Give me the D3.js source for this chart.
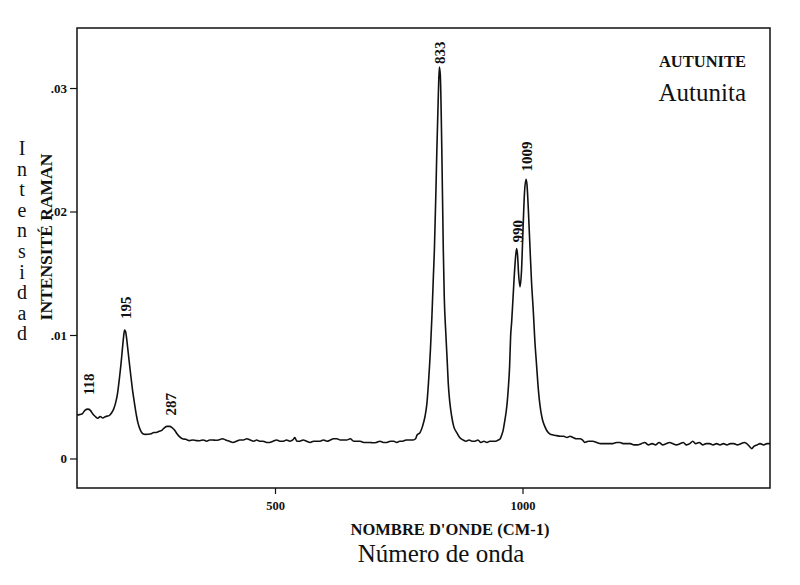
<!DOCTYPE html>
<html>
<head>
<meta charset="utf-8">
<script src="https://cdn.jsdelivr.net/npm/d3@7"></script>
<style>
  html, body { margin: 0; padding: 0; background: #fff; }
  svg { display: block; }
  text { font-family: "Liberation Serif", "Times New Roman", serif; fill: #111; }
</style>
</head>
<body>
<svg id="chart" width="800" height="585"></svg>
<script>
// ---- data ----
const wavenumber = [100,105,110,116,122,127,132,137,142,147,152,158,165,170,174,178,182,186,189,192,194,196,198,200,202,205,209,212,216,220,223,228,233,238,243,250,255,260,266,272,277,282,287,292,297,302,307,313,320,327,334,341,348,355,362,368,374,380,386,394,400,408,415,422,429,436,443,450,457,463,469,476,483,489,496,503,510,517,523,530,536,540,544,550,557,564,571,578,585,591,598,605,612,618,625,632,639,645,652,659,666,672,679,685,692,698,705,712,719,726,733,740,746,752,758,765,772,779,784,787,793,798,803,807,810,814,817,820,822,825,827,830,832,834,837,840,842,845,848,850,853,857,861,867,873,880,886,892,898,904,910,916,922,928,934,940,946,951,955,958,961,964,967,969,971,974,976,978,981,985,988,990,992,995,998,1001,1004,1007,1009,1012,1015,1018,1022,1025,1028,1032,1035,1040,1045,1050,1055,1062,1069,1076,1083,1090,1096,1102,1109,1116,1121,1126,1133,1142,1150,1158,1166,1174,1182,1190,1197,1203,1210,1218,1225,1232,1240,1247,1254,1262,1269,1276,1283,1290,1297,1304,1311,1318,1325,1331,1338,1344,1350,1357,1364,1371,1378,1385,1392,1399,1406,1413,1420,1427,1434,1441,1448,1453,1458,1463,1468,1474,1480,1487,1494,1500];
const intensity = [.00352,.00355,.0036,.0039,.0040,.0039,.0036,.0034,.00326,.0034,.00328,.0034,.00347,.0037,.0040,.0045,.0053,.0066,.0077,.0090,.0098,.0104,.0103,.0098,.0091,.0080,.0066,.0056,.0045,.0035,.0029,.0023,.0020,.00195,.00196,.0020,.0021,.0021,.0022,.0023,.0025,.0026,.0026,.0025,.0023,.0020,.00177,.0016,.00155,.00145,.0015,.00145,.00144,.0015,.0014,.0015,.0015,.00148,.0015,.0016,.0015,.0014,.0013,.0014,.0015,.0015,.0016,.0015,.0014,.0015,.0014,.0014,.0013,.0013,.0014,.0015,.0014,.0014,.0015,.0014,.0015,.0017,.0014,.0014,.0015,.0014,.0013,.0014,.0014,.0014,.0015,.0014,.0015,.0016,.0016,.0015,.0015,.0015,.0016,.0014,.0014,.0014,.0013,.0013,.0013,.00127,.0013,.0014,.0013,.0013,.0014,.0014,.0013,.0014,.0014,.0015,.0015,.0015,.0016,.0019,.0021,.0026,.0034,.0045,.0061,.0088,.0115,.0148,.0169,.0215,.0250,.0295,.0317,.0310,.0250,.0169,.0130,.0102,.0078,.0061,.0046,.0034,.0026,.0021,.0017,.0015,.0014,.0015,.0014,.0014,.0015,.0013,.0014,.0013,.0014,.0014,.0014,.0015,.0016,.0019,.0023,.0030,.0038,.0045,.0055,.0075,.0099,.0110,.0131,.0158,.0170,.0165,.0150,.0139,.0152,.0185,.0215,.0226,.0222,.0200,.0172,.0145,.0118,.0095,.0078,.0056,.0044,.0032,.0026,.0022,.0020,.0019,.00185,.0018,.0018,.0017,.0018,.0017,.0016,.0016,.0015,.0013,.0014,.0014,.0013,.0012,.0012,.0012,.0012,.0013,.0013,.0012,.0012,.0012,.0011,.0011,.0012,.0013,.0011,.0012,.0011,.0013,.0011,.0012,.0013,.0012,.0011,.0012,.0013,.0011,.0012,.0014,.0012,.0013,.0011,.0012,.0012,.0011,.0012,.0011,.0012,.0011,.0012,.0012,.0011,.0012,.0013,.0012,.0010,.0008,.0010,.0011,.0012,.0011,.0012,.0012];
const peakLabels = ["118","195","287","833","990","1009"];
const peakPositions = [122,196,287,832,988,1007];
const xTicks = [500,1000];
const yTicks = [0,0.01,0.02,0.03];
const yTickLabels = ["0",".01",".02",".03"];

// ---- layout ----
const svg = d3.select("#chart");
const L = 77, R = 770, T = 28, B = 488;
const x = d3.scaleLinear().domain([100,1500]).range([L,R]);
const y = d3.scaleLinear().domain([-0.00239,0.03486]).range([B,T]);

// frame
svg.append("rect").attr("x",L).attr("y",T).attr("width",R-L).attr("height",B-T)
  .attr("fill","none").attr("stroke","#111").attr("stroke-width",1.5);

// axes
const yAxis = d3.axisLeft(y).tickValues(yTicks).tickSize(7).tickPadding(3)
  .tickFormat((d,i)=>yTickLabels[i]);
const gy = svg.append("g").attr("transform",`translate(${L},0)`).call(yAxis);
gy.select(".domain").remove();
gy.selectAll("line").attr("stroke","#111").attr("stroke-width",1.2);
gy.selectAll("text").style("font-family","'Liberation Serif',serif").style("font-weight","bold").style("font-size","13px").attr("fill","#111");

const xAxis = d3.axisBottom(x).tickValues(xTicks).tickSize(6).tickPadding(7).tickFormat(d3.format("d"));
const gx = svg.append("g").attr("transform",`translate(0,${B})`).call(xAxis);
gx.select(".domain").remove();
gx.selectAll("line").attr("stroke","#111").attr("stroke-width",1.2);
gx.selectAll("text").style("font-family","'Liberation Serif',serif").style("font-weight","bold").style("font-size","12.5px").attr("fill","#111");

// spectrum
const pts = wavenumber.map((w,i)=>[w,intensity[i]]);
const line = d3.line().x(d=>x(d[0])).y(d=>y(d[1])).curve(d3.curveMonotoneX);
svg.append("path").datum(pts).attr("d",line).attr("fill","none")
  .attr("stroke","#111").attr("stroke-width",1.6).attr("stroke-linejoin","round");

// peak labels
const gaps = {"118":14,"195":11,"287":11,"833":3,"990":6,"1009":8};
peakLabels.forEach((lab,i)=>{
  const w = peakPositions[i];
  const idx = wavenumber.indexOf(w);
  const px = x(w) + 6, py = y(intensity[idx]) - gaps[lab];
  svg.append("text").attr("transform",`translate(${px},${py}) rotate(-90)`)
    .attr("text-anchor","start").style("font-weight","bold").style("font-size","15px").text(lab);
});

// titles
svg.append("text").attr("transform","translate(52,237) rotate(-90)").attr("text-anchor","middle")
  .style("font-weight","bold").style("font-size","17.5px").text("INTENSITÉ RAMAN");
const vert = "Intensidad".split("");
svg.append("g").selectAll("text").data(vert).join("text")
  .attr("x",22).attr("y",(d,i)=>155 + i*20.6).attr("text-anchor","middle")
  .style("font-size","20px").text(d=>d);

svg.append("text").attr("x",450).attr("y",535).attr("text-anchor","middle")
  .style("font-weight","bold").style("font-size","16.5px").text("NOMBRE D'ONDE (CM-1)");
svg.append("text").attr("x",441).attr("y",562).attr("text-anchor","middle")
  .style("font-size","25px").text("Número de onda");

svg.append("text").attr("x",746).attr("y",67).attr("text-anchor","end")
  .style("font-weight","bold").style("font-size","16.5px").text("AUTUNITE");
svg.append("text").attr("x",746).attr("y",101).attr("text-anchor","end")
  .style("font-size","25px").text("Autunita");
</script>
</body>
</html>
